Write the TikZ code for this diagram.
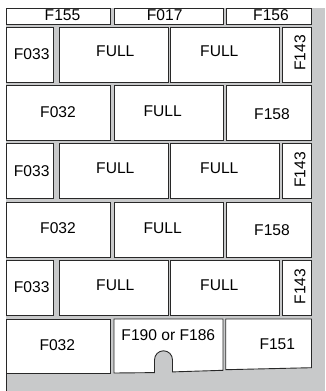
\documentclass[tikz,border=0pt]{standalone}
\usepackage{fontspec}
\setmainfont{Liberation Sans}
\definecolor{bggray}{RGB}{200,201,202}
\definecolor{edge}{RGB}{40,40,40}
\begin{document}
\begin{tikzpicture}[x=1pt,y=-1pt,
  boxst/.style={fill=white,draw=edge,line width=0.9pt},
  lbl/.style={inner sep=0pt,font=\fontsize{15.6}{18}\selectfont},
  vlbl/.style={lbl,rotate=90}]
\useasboundingbox (0,0) rectangle (325,391);
\fill[bggray] (6,8) rectangle (325,391);
\draw[edge,line width=0.6pt] (6,373) -- (6,391);
% top strip
\draw[boxst] (6,8) rectangle (110,24);
\draw[boxst] (114,8) rectangle (223,24);
\draw[boxst] (226,8) rectangle (311.5,24);
\node[lbl] (f155) at (62.5,15.6) {F155};
\node[lbl] (f017) at (164.7,15.6) {F017};
\node[lbl] (f156) at (271,15.6) {F156};
% rows type A
\foreach \T/\n in {27/1,143.8/3,260.6/5}{
  \draw[boxst] (6,\T) rectangle (53,\T+55);
  \draw[boxst] (59,\T) rectangle (168,\T+55);
  \draw[boxst] (170,\T) rectangle (279,\T+55);
  \draw[boxst] (282,\T) rectangle (311.5,\T+55);
  \node[lbl] (a\n) at (31.7,\T+27) {F033};
  \node[lbl] (b\n) at (115.3,\T+24.7) {FULL};
  \node[lbl] (c\n) at (219.3,\T+24.7) {FULL};
  \node[vlbl] (d\n) at (300,\T+26) {F143};
}
% rows type B
\foreach \T/\n in {85.4/2,202.2/4}{
  \draw[boxst] (6,\T) rectangle (110,\T+55);
  \draw[boxst] (114,\T) rectangle (223,\T+55);
  \draw[boxst] (226,\T) rectangle (311.5,\T+55);
  \node[lbl] (a\n) at (58,\T+26.4) {F032};
  \node[lbl] (b\n) at (162.7,\T+26.1) {FULL};
  \node[lbl] (c\n) at (272,\T+28.3) {F158};
}
% bottom row
\draw[boxst] (6,319) rectangle (110,373);
\draw[boxst] (114,319) -- (223,319) -- (223,370.3) -- (172.5,371.9)
  -- (172.5,359.8) arc[start angle=0,end angle=-180,radius=9] -- (154.5,372.6)
  -- (114,373) -- cycle;
\draw[boxst] (225.7,319) -- (311.5,319) -- (311.5,367.7) -- (225.7,369.7) -- cycle;
\node[lbl] (a6) at (57.3,345) {F032};
\node[lbl] (b6) at (168.3,335) {F190 or F186};
\node[lbl] (c6) at (277.3,344.3) {F151};
\end{tikzpicture}
\end{document}
